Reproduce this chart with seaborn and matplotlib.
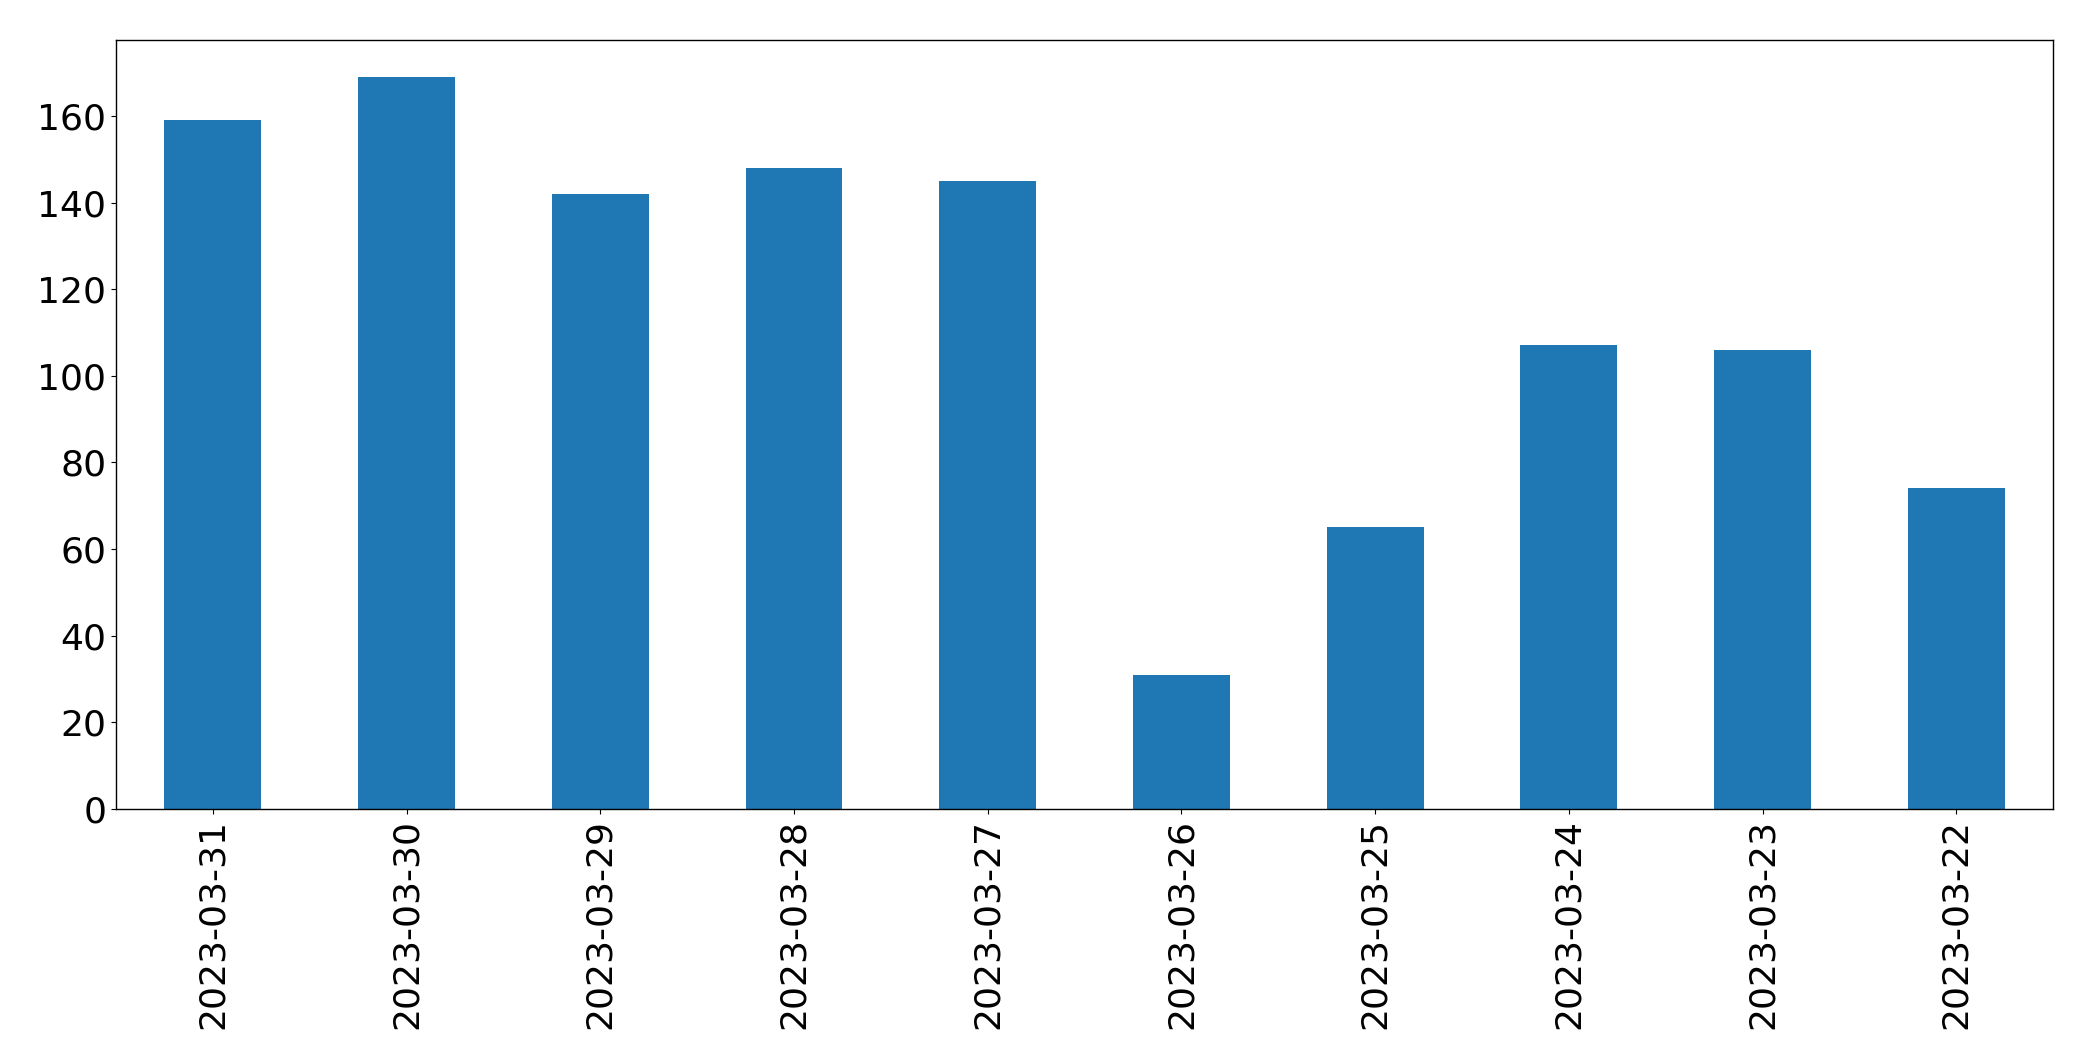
import matplotlib
matplotlib.use("Agg")
import matplotlib.pyplot as plt
import seaborn as sns
import pandas as pd

dates = ["2023-03-31", "2023-03-30", "2023-03-29", "2023-03-28", "2023-03-27",
         "2023-03-26", "2023-03-25", "2023-03-24", "2023-03-23", "2023-03-22"]
counts = [159, 169, 142, 148, 145, 31, 65, 107, 106, 74]

df = pd.DataFrame({"date": dates, "count": counts})

plt.rcParams['font.family'] = ['DejaVu Sans']
fig, ax = plt.subplots(figsize=(20.93, 10.61), dpi=100)
sns.barplot(data=df, x="date", y="count", order=dates, color="#1f77b4",
            saturation=1, width=0.5, ax=ax)
ax.set_xlim(-0.5, len(dates) - 0.5)
ax.set_ylim(0, max(counts) * 1.05)
ax.set_xlabel("")
ax.set_ylabel("")
ax.tick_params(axis="both", labelsize=26)
plt.setp(ax.get_xticklabels(), rotation=90)
for s in ax.spines.values():
    s.set_visible(True)
    s.set_color("black")
    s.set_linewidth(1.0)
fig.subplots_adjust(left=0.0554, right=0.981, top=0.962, bottom=0.2375)
fig.savefig("out.png", dpi=100)
